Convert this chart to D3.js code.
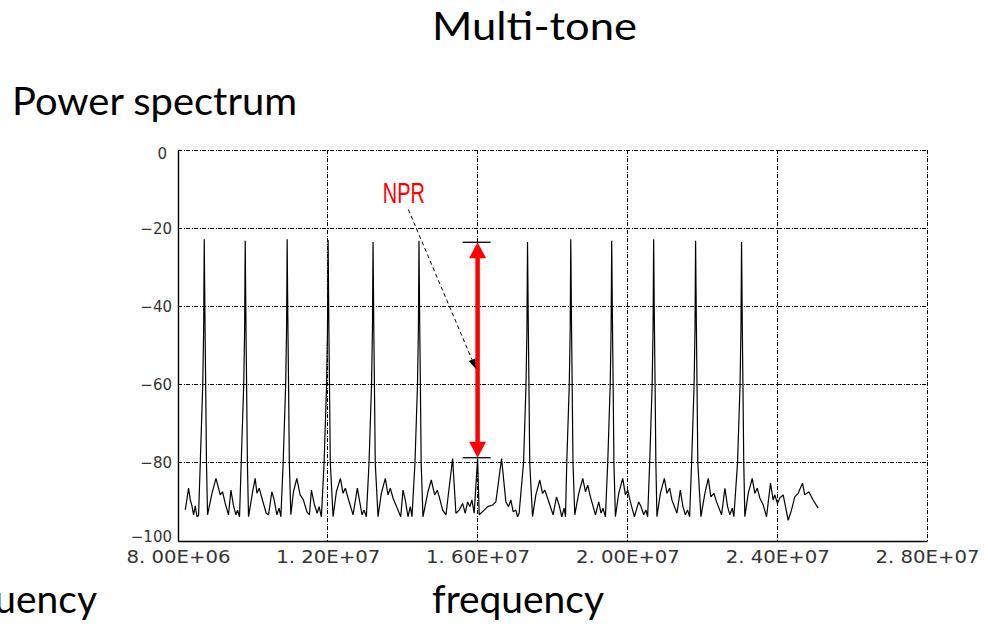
<!DOCTYPE html>
<html lang="en">
<head>
  <meta charset="UTF-8">
  <title>Multi-tone</title>
  <script src="https://cdnjs.cloudflare.com/ajax/libs/d3/7.8.5/d3.min.js"></script>
  <style>
      body {
          margin: 0;
          background: #fff;
      }

      svg {
          display: block;
      }
  </style>
</head>
<body>

<div id="chart"></div>

<script>
  // Layout
  const width = 988;
  const height = 626;
  const plotLeft = 178;
  const plotRight = 927;
  const plotTop = 150;
  const plotBottom = 541;

  // Spectrum trace: [frequency in MHz, level in dB]
  const spectrum = [
    [8.195,-92],[8.283,-86.5],[8.328,-89.5],[8.373,-91],[8.416,-93.3],[8.461,-91],[8.507,-93.8],[8.549,-93.5],
    [8.595,-80],[8.661,-60],[8.685,-46],[8.701,-22.8],[8.712,-35],[8.723,-46],[8.739,-60],[8.760,-80],[8.789,-93.3],
    [8.907,-87.8],[9.013,-84],[9.083,-86.5],[9.128,-88.2],[9.189,-87.4],[9.261,-90.4],[9.349,-93.3],[9.413,-87],[9.483,-91],[9.547,-93.3],[9.589,-92.1],[9.643,-93.8],
    [9.688,-80],[9.755,-60],[9.779,-46],[9.795,-23.2],[9.805,-35],[9.816,-46],[9.832,-60],[9.853,-80],[9.883,-93.8],
    [10.000,-87],[10.061,-84],[10.107,-87.8],[10.168,-86.5],[10.240,-89],[10.355,-92.9],[10.416,-93.3],[10.507,-87.4],[10.568,-89.5],[10.640,-93.3],[10.701,-91.6],[10.747,-93.8],
    [10.808,-80],[10.875,-60],[10.899,-46],[10.915,-22.8],[10.925,-35],[10.936,-46],[10.952,-60],[10.973,-80],[11.013,-93.3],
    [11.083,-87.4],[11.173,-84],[11.261,-88.2],[11.349,-89.5],[11.440,-92.5],[11.509,-93.3],[11.563,-87],[11.635,-90.4],[11.715,-92.9],[11.768,-91.2],[11.829,-93.8],
    [11.901,-80],[11.968,-60],[11.992,-46],[12.008,-23],[12.019,-35],[12.029,-46],[12.045,-60],[12.067,-80],[12.141,-93.8],
    [12.229,-87.4],[12.336,-84],[12.408,-87.8],[12.469,-86.5],[12.541,-89],[12.675,-93.3],[12.789,-86.5],[12.853,-90],[12.915,-93.3],[12.968,-92.1],[13.029,-93.8],
    [13.101,-80],[13.168,-60],[13.192,-46],[13.208,-23.5],[13.219,-35],[13.229,-46],[13.245,-60],[13.267,-80],[13.341,-93.8],
    [13.429,-87.8],[13.536,-84],[13.608,-88.2],[13.669,-86.5],[13.741,-89],[13.875,-92.1],[13.947,-93.8],[14.008,-87],[14.069,-89.5],[14.141,-93.8],[14.203,-91.2],[14.248,-93.8],
    [14.328,-80],[14.395,-60],[14.419,-46],[14.435,-23.2],[14.445,-35],[14.456,-46],[14.472,-60],[14.493,-80],[14.541,-93.8],
    [14.675,-87.4],[14.763,-84.4],[14.853,-88.2],[14.923,-87],[14.976,-88.7],[15.067,-92.1],[15.155,-93.3],[15.333,-78.9],[15.421,-92.9],[15.509,-92.1],
    [15.600,-90.4],[15.669,-92.9],[15.733,-90],[15.795,-91.2],[15.848,-89.5],[15.909,-92.9],[16.000,-78.9],[16.043,-93.3],[16.176,-92.1],[16.267,-91.2],
    [16.400,-90.8],[16.488,-90],[16.640,-78.9],[16.755,-90],[16.827,-91.2],[16.888,-89.5],[16.949,-92.5],[17.021,-92.1],[17.067,-93.8],[17.109,-92.9],
    [17.227,-80],[17.293,-60],[17.317,-46],[17.333,-23.5],[17.344,-35],[17.355,-46],[17.371,-60],[17.392,-80],[17.467,-93.8],
    [17.555,-88.2],[17.661,-84.4],[17.733,-87.8],[17.795,-87],[17.867,-89],[18.016,-93.3],[18.107,-88.7],[18.176,-90.8],[18.248,-93.8],[18.309,-91.6],[18.347,-93.8],
    [18.381,-80],[18.448,-60],[18.472,-46],[18.488,-22.8],[18.499,-35],[18.509,-46],[18.525,-60],[18.547,-80],[18.595,-93.3],
    [18.701,-87.8],[18.808,-84],[18.880,-87.4],[18.941,-85.7],[19.013,-88.7],[19.147,-93.3],[19.235,-90],[19.296,-92.9],[19.349,-91.6],[19.413,-93.8],
    [19.475,-80],[19.541,-60],[19.565,-46],[19.581,-23.2],[19.592,-35],[19.603,-46],[19.619,-60],[19.640,-80],[19.680,-93.8],
    [19.768,-87.8],[19.875,-84],[19.947,-88.2],[20.008,-87],[20.080,-90],[20.187,-93.8],[20.301,-90],[20.363,-91.2],[20.435,-93.3],[20.496,-92.1],[20.541,-93.8],
    [20.595,-80],[20.661,-60],[20.685,-46],[20.701,-22.8],[20.712,-35],[20.723,-46],[20.739,-60],[20.760,-80],[20.789,-93.8],
    [20.880,-87.8],[20.987,-84],[21.056,-87.8],[21.128,-86.5],[21.189,-89.5],[21.323,-92.9],[21.413,-87],[21.483,-91.2],[21.547,-93.3],[21.608,-92.1],[21.661,-93.8],
    [21.715,-80],[21.781,-60],[21.805,-46],[21.821,-23.2],[21.832,-35],[21.843,-46],[21.859,-60],[21.880,-80],[21.963,-93.8],
    [22.069,-87.8],[22.160,-84],[22.229,-88.7],[22.309,-87.8],[22.381,-90],[22.515,-93.3],[22.603,-86.5],[22.675,-91.2],[22.736,-93.3],[22.800,-91.6],[22.843,-93.8],
    [22.941,-80],[23.008,-60],[23.032,-46],[23.048,-23.5],[23.059,-35],[23.069,-46],[23.085,-60],[23.107,-80],[23.136,-93.8],
    [23.227,-87.8],[23.333,-84],[23.403,-87.8],[23.467,-86.5],[23.536,-89],[23.627,-90.8],[23.715,-93.8],[23.821,-85.2],[23.893,-89.5],[23.936,-88.2],
    [24.008,-90.4],[24.069,-89],[24.160,-88.2],[24.293,-94.7],[24.381,-92.1],[24.469,-88.7],[24.560,-87.8],[24.675,-85.2],[24.736,-88.2],[24.843,-87.4],
    [24.960,-89.5],[25.093,-91.6]
  ];

  // Axes
  const freqTicks = [8e6, 1.2e7, 1.6e7, 2.0e7, 2.4e7, 2.8e7];
  const freqTickLabels = ["8. 00E+06", "1. 20E+07", "1. 60E+07", "2. 00E+07", "2. 40E+07", "2. 80E+07"];
  const levelTicks = [0, -20, -40, -60, -80, -100];

  // NPR annotation (MHz, dB)
  const nprFreqMHz = 16.0;
  const nprTopDb = -23.6;
  const nprBottomDb = -78.7;
  const nprLabelAt = [13.47, -13.6];
  const nprPointer = [[14.15, -15.2], [15.955, -56]];

  // Texts
  const titleText = "Multi-tone";
  const subtitleText = "Power spectrum";
  const xAxisTitle = "frequency";

  const svg = d3.select("#chart")
      .append("svg")
      .attr("width", width)
      .attr("height", height)
      .attr("viewBox", [0, 0, width, height]);

  svg.append("rect").attr("width", width).attr("height", height).attr("fill", "#fff");

  const x = d3.scaleLinear([8e6, 2.8e7], [plotLeft, plotRight]);
  const y = d3.scaleLinear([-100, 0], [plotBottom, plotTop]);

  // titles
  const titleFont = "Lato, 'Open Sans', sans-serif";
  svg.append("text")
      .attr("x", 432).attr("y", 40)
      .attr("font-family", titleFont).attr("font-size", 38)
      .attr("textLength", 205).attr("lengthAdjust", "spacingAndGlyphs")
      .text(titleText);

  svg.append("text")
      .attr("x", 12).attr("y", 115)
      .attr("font-family", titleFont).attr("font-size", 38)
      .attr("textLength", 285).attr("lengthAdjust", "spacingAndGlyphs")
      .text(subtitleText);

  svg.append("text")
      .attr("x", 432).attr("y", 613)
      .attr("font-family", titleFont).attr("font-size", 38)
      .attr("textLength", 172).attr("lengthAdjust", "spacingAndGlyphs")
      .text(xAxisTitle);

  // cut-off label of the neighbouring panel
  svg.append("text")
      .attr("x", -75).attr("y", 613)
      .attr("font-family", titleFont).attr("font-size", 38)
      .attr("textLength", 172).attr("lengthAdjust", "spacingAndGlyphs")
      .text(xAxisTitle);

  // grid
  const grid = svg.append("g")
      .attr("stroke", "#000")
      .attr("stroke-width", 1)
      .attr("stroke-dasharray", "4,1.5,1,1.5")
      .attr("shape-rendering", "crispEdges");

  grid.selectAll("line.h")
      .data(levelTicks.filter(d => d > -100))
      .join("line")
      .attr("class", "h")
      .attr("x1", plotLeft).attr("x2", plotRight)
      .attr("y1", d => y(d)).attr("y2", d => y(d));

  grid.selectAll("line.v")
      .data(freqTicks.slice(1))
      .join("line")
      .attr("class", "v")
      .attr("y1", plotTop).attr("y2", plotBottom)
      .attr("x1", d => x(d)).attr("x2", d => x(d));

  // spectrum trace
  const line = d3.line()
      .x(d => x(d[0] * 1e6))
      .y(d => y(d[1]));

  svg.append("path")
      .datum(spectrum)
      .attr("fill", "none")
      .attr("stroke", "#000")
      .attr("stroke-width", 1.2)
      .attr("stroke-linejoin", "bevel")
      .attr("d", line);

  // axes
  const xAxis = svg.append("g")
      .attr("transform", `translate(0,${plotBottom})`)
      .call(d3.axisBottom(x)
          .tickValues(freqTicks)
          .tickFormat((d, i) => freqTickLabels[i])
          .tickSize(0)
          .tickPadding(9));

  xAxis.select(".domain").attr("stroke", "#000").attr("stroke-width", 1.4);
  xAxis.selectAll("text")
      .attr("font-family", "'DejaVu Sans', sans-serif")
      .attr("font-size", 18)
      .attr("fill", "#333")
      .attr("textLength", 104)
      .attr("lengthAdjust", "spacingAndGlyphs");

  const yAxis = svg.append("g")
      .attr("transform", `translate(${plotLeft},0)`)
      .call(d3.axisLeft(y)
          .tickValues(levelTicks)
          .tickSize(0)
          .tickPadding(6));

  yAxis.select(".domain").attr("stroke", "#000").attr("stroke-width", 1.4);
  yAxis.selectAll("text")
      .attr("font-family", "'DejaVu Sans', sans-serif")
      .attr("font-size", 15)
      .attr("fill", "#333");
  // end labels sit inside the frame
  yAxis.selectAll(".tick").filter(d => d === 0).select("text").attr("dy", "0.55em").attr("x", -11);
  yAxis.selectAll(".tick").filter(d => d === -100).select("text").attr("dy", "0");

  // NPR double arrow
  const cx = x(nprFreqMHz * 1e6);
  const yTop = y(nprTopDb);
  const yBot = y(nprBottomDb);
  const headLen = 16;
  const headHalf = 8.5;

  const npr = svg.append("g");

  npr.append("line")
      .attr("x1", cx).attr("x2", cx)
      .attr("y1", yTop + headLen - 1).attr("y2", yBot - headLen + 1)
      .attr("stroke", "#ff0000")
      .attr("stroke-width", 4.5);

  npr.append("polygon")
      .attr("points", [[cx, yTop], [cx - headHalf, yTop + headLen], [cx + headHalf, yTop + headLen]].join(" "))
      .attr("fill", "#ff0000");

  npr.append("polygon")
      .attr("points", [[cx, yBot], [cx - headHalf, yBot - headLen], [cx + headHalf, yBot - headLen]].join(" "))
      .attr("fill", "#ff0000");

  npr.selectAll("line.cap")
      .data([yTop, yBot])
      .join("line")
      .attr("class", "cap")
      .attr("x1", cx - 15).attr("x2", cx + 13)
      .attr("y1", d => d).attr("y2", d => d)
      .attr("stroke", "#000")
      .attr("stroke-width", 1.3);

  npr.append("text")
      .attr("x", x(nprLabelAt[0] * 1e6))
      .attr("y", y(nprLabelAt[1]))
      .attr("font-family", "'Liberation Sans Narrow', 'Liberation Sans', sans-serif")
      .attr("font-size", 29)
      .attr("fill", "#ff0000")
      .attr("textLength", 42)
      .attr("lengthAdjust", "spacingAndGlyphs")
      .text("NPR");

  // dashed pointer with arrowhead
  const [p0, p1] = nprPointer.map(([f, db]) => [x(f * 1e6), y(db)]);
  const ang = Math.atan2(p1[1] - p0[1], p1[0] - p0[0]);
  const aLen = 10, aHalf = 3.5;
  const base = [p1[0] - aLen * Math.cos(ang), p1[1] - aLen * Math.sin(ang)];

  npr.append("line")
      .attr("x1", p0[0]).attr("y1", p0[1])
      .attr("x2", base[0]).attr("y2", base[1])
      .attr("stroke", "#000")
      .attr("stroke-width", 1)
      .attr("stroke-dasharray", "4,3");

  npr.append("polygon")
      .attr("points", [
        p1,
        [base[0] + aHalf * Math.sin(ang), base[1] - aHalf * Math.cos(ang)],
        [base[0] - aHalf * Math.sin(ang), base[1] + aHalf * Math.cos(ang)]
      ].join(" "))
      .attr("fill", "#000");
</script>
</body>
</html>
